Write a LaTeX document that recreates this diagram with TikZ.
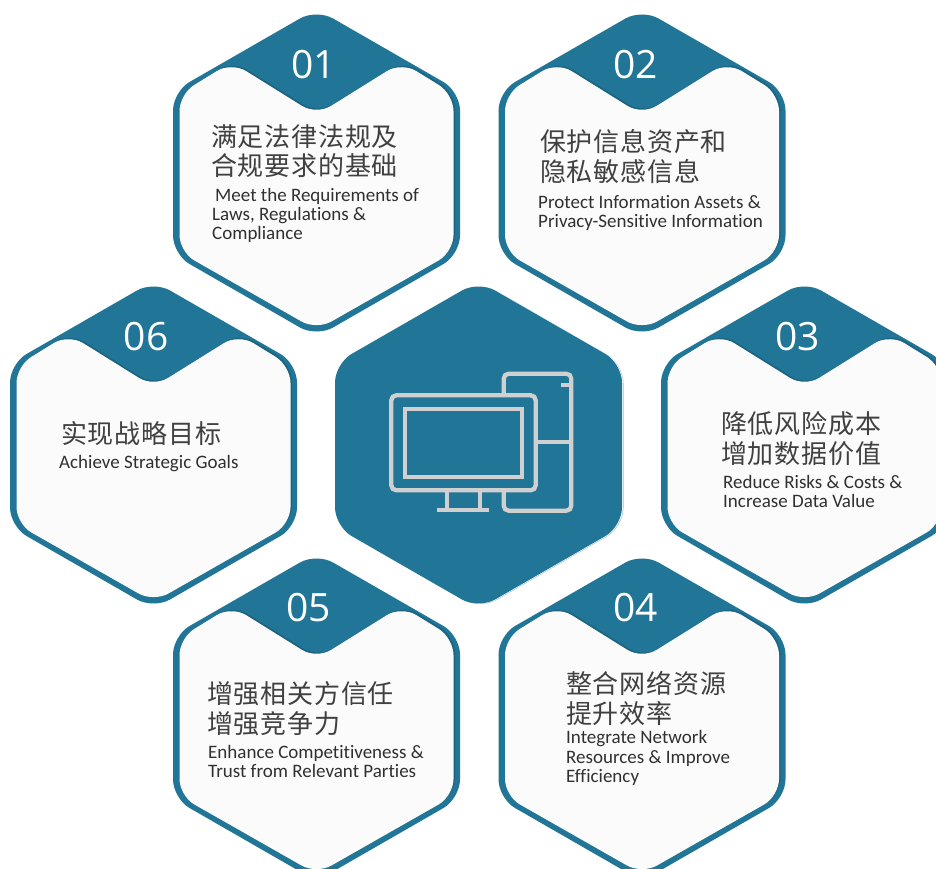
\documentclass[tikz,border=0pt]{standalone}
\usepackage{fontspec}
\setmainfont{Open Sans}
\newfontfamily\cjkf[LetterSpace=3]{Noto Sans CJK SC}
\newfontfamily\latf[Ligatures=NoCommon]{Carlito}
\newfontfamily\numf{Open Sans}
\definecolor{teal1}{HTML}{217596}
\definecolor{teal2}{HTML}{1B6380}
\definecolor{card}{HTML}{FBFBFC}
\definecolor{icon}{HTML}{D0D0D0}
\definecolor{cjktxt}{HTML}{404040}
\definecolor{entxt}{HTML}{303030}
\definecolor{halo}{HTML}{9CC0D4}
\tikzset{
  x=1pt,y=-1pt,
  cjkline/.style={anchor=west,inner sep=0pt,text=cjktxt,font=\cjkf\fontsize{26}{29.5}\selectfont,align=left},
  enline/.style={anchor=west,inner sep=0pt,text=entxt,font=\latf\fontsize{19}{19.3}\selectfont,align=left},
  numlabel/.style={inner sep=0pt,text=white,font=\numf\fontsize{39}{41}\selectfont},
  iconline/.style={draw=icon,line width=4.3pt}
}
\newcommand{\hexpath}[2]{(#1,#2-164) -- (#1+143.5,#2-81.5) -- (#1+143.5,#2+81.5) -- (#1,#2+164) -- (#1-143.5,#2+81.5) -- (#1-143.5,#2-81.5) -- cycle}
\newcommand{\innerpath}[2]{(#1,#2-58) -- (#1+85,#2-111) -- (#1+137,#2-79) -- (#1+137,#2+79) -- (#1,#2+157) -- (#1-137,#2+79) -- (#1-137,#2-79) -- (#1-85,#2-111) -- cycle}
\newcommand{\hexcard}[2]{%
  \fill[teal1,rounded corners=19pt] \hexpath{#1}{#2};
  \fill[teal2,rounded corners=17pt] \innerpath{#1+1.5}{#2-1.2};
  \fill[card,rounded corners=17pt] \innerpath{#1}{#2};
}
\begin{document}
\begin{tikzpicture}
\useasboundingbox (0,0) rectangle (936,869);
\clip (0,0) rectangle (936,869);
\fill[white] (0,0) rectangle (936,869);
\hexcard{316.5}{173}
\hexcard{642}{173}
\hexcard{153.5}{445}
\hexcard{804.5}{445}
\hexcard{316.5}{717}
\hexcard{642}{717}
% centre hexagon with its faint outline
\fill[halo,rounded corners=19pt] \hexpath{480}{445.5};
\fill[white,rounded corners=19pt] \hexpath{479.4}{445.2};
\fill[teal1,rounded corners=19pt] \hexpath{478.5}{445};
% icon
\draw[iconline,rounded corners=5pt] (391.3,395.3) rectangle (535.7,490.3);
\draw[draw=icon,line width=4.3pt] (405,409.3) rectangle (522,477);
\draw[iconline] (447.3,490.3) -- (447.3,510.3);
\draw[iconline] (479.7,490.3) -- (479.7,510.3);
\draw[iconline] (437,510.3) -- (489,510.3);
\draw[iconline,rounded corners=5pt] (503.7,395.3) -- (503.7,373.7) -- (571.3,373.7) -- (571.3,510.7) -- (503.7,510.7) -- (503.7,490.3);
\draw[iconline] (535.7,442.3) -- (571.3,442.3);
\draw[iconline] (561,385.3) -- (570,385.3);
% numbers
\node[numlabel] (n1) at (313.5,65) {01};
\node[numlabel] (n2) at (635.5,65) {02};
\node[numlabel] (n3) at (797.5,337) {03};
\node[numlabel] (n4) at (635.5,608) {04};
\node[numlabel] (n5) at (308.5,608) {05};
\node[numlabel] (n6) at (146,337) {06};
% card 01
\node[cjkline] (c1) at (211,151) {满足法律法规及\\合规要求的基础};
\node[enline] (e1) at (212,215.5) {\hspace*{3pt}Meet the Requirements of\\Laws, Regulations \&\\Compliance};
% card 02
\node[cjkline] (c2) at (540,156.5) {保护信息资产和\\隐私敏感信息};
\node[enline] (e2) at (538,213) {Protect Information Assets \&\\Privacy-Sensitive Information};
% card 03
\node[cjkline] (c3) at (721,438.5) {降低风险成本\\增加数据价值};
\node[enline] (e3) at (723,491.5) {Reduce Risks \& Costs \&\\Increase Data Value};
% card 04
\node[cjkline] (c4) at (566,698.5) {整合网络资源\\提升效率};
\node[enline] (e4) at (566,758) {Integrate Network\\Resources \& Improve\\Efficiency};
% card 05
\node[cjkline] (c5) at (207,708.5) {增强相关方信任\\增强竞争力};
\node[enline] (e5) at (208,761.5) {Enhance Competitiveness \&\\Trust from Relevant Parties};
% card 06
\node[cjkline] (c6) at (61,433.5) {实现战略目标};
\node[enline] (e6) at (59,463.5) {Achieve Strategic Goals};
\end{tikzpicture}
\end{document}
